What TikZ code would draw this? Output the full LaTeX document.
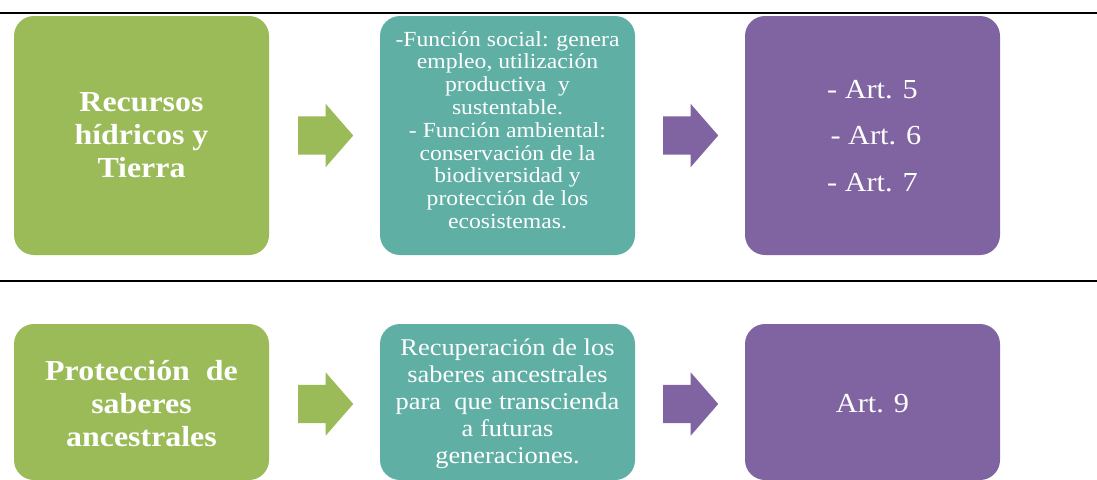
\documentclass[tikz,border=0pt]{standalone}
\usepackage{fontspec}
\setmainfont{Liberation Serif}[FakeStretch=1.1]
\usetikzlibrary{shapes.arrows}
\definecolor{cgreen}{HTML}{9BBB59}
\definecolor{cteal}{HTML}{5FAFA5}
\definecolor{cpurple}{HTML}{8064A2}
\tikzset{
  boxbase/.style={draw=none, rounded corners=20pt, minimum width=255pt, inner sep=0pt},
  gbox/.style={boxbase, fill=cgreen},
  tbox/.style={boxbase, fill=cteal},
  pbox/.style={boxbase, fill=cpurple},
  toprow/.style={minimum height=239pt},
  botrow/.style={minimum height=156pt},
  txt/.style={text=white, align=center, inner sep=0pt},
  gtxt/.style={txt, font=\fontsize{29}{33}\selectfont\bfseries},
  ttxt/.style={txt, font=\fontsize{21.5}{22.8}\selectfont},
  ttxtb/.style={txt, font=\fontsize{24}{27}\selectfont},
  ptxt/.style={txt, font=\fontsize{27.5}{46.5}\selectfont},
  arr/.style={single arrow, draw=none, minimum height=55pt, inner xsep=0pt, inner ysep=19pt,
    single arrow head extend=12.5pt, single arrow tip angle=98, anchor=tail},
  garr/.style={arr, fill=cgreen},
  parr/.style={arr, fill=cpurple},
  rule/.style={line width=2pt, black}
}
\begin{document}
\begin{tikzpicture}[x=1pt,y=-1pt]
\useasboundingbox (0,0) rectangle (1097,479);
\coordinate (l1a) at (0,12.5);
\coordinate (l1b) at (1097,12.5);
\coordinate (l2a) at (0,280.5);
\coordinate (l2b) at (1097,280.5);
\draw[rule] (l1a) -- (l1b);
\draw[rule] (l2a) -- (l2b);
% top row
\node[gbox, toprow] (g1) at (141.5,135.5) {};
\node[gtxt] (g1t) at (141.5,135.5) {Recursos\\hídricos y\\Tierra};
\node[tbox, toprow] (t1) at (507.5,135.5) {};
\node[ttxt] (t1t) at (507.5,130) {-Función social: genera\\empleo, utilización\\productiva\ \ y\\sustentable.\\- Función ambiental:\\conservación de la\\biodiversidad y\\protección de los\\ecosistemas.};
\node[pbox, toprow] (p1) at (872.5,135.5) {};
\node[ptxt] (p1t) at (872.5,136) {- Art. 5\\\hspace*{0.25em}- Art. 6\\- Art. 7};
\node[garr] (a1) at (298,135.5) {};
\node[parr] (a2) at (663,135.5) {};
% bottom row
\node[gbox, botrow] (g2) at (141.5,402) {};
\node[gtxt] (g2t) at (141.5,404) {Protección\ \ de\\saberes\\ancestrales};
\node[tbox, botrow] (t2) at (507.5,402) {};
\node[ttxtb] (t2t) at (507.5,404) {Recuperación de los\\saberes ancestrales\\para\ \ que transcienda\\a futuras\\generaciones.};
\node[pbox, botrow] (p2) at (872.5,402) {};
\node[ptxt] (p2t) at (872.5,404) {Art. 9};
\node[garr] (a3) at (298,404) {};
\node[parr] (a4) at (663,404) {};
\end{tikzpicture}
\end{document}
